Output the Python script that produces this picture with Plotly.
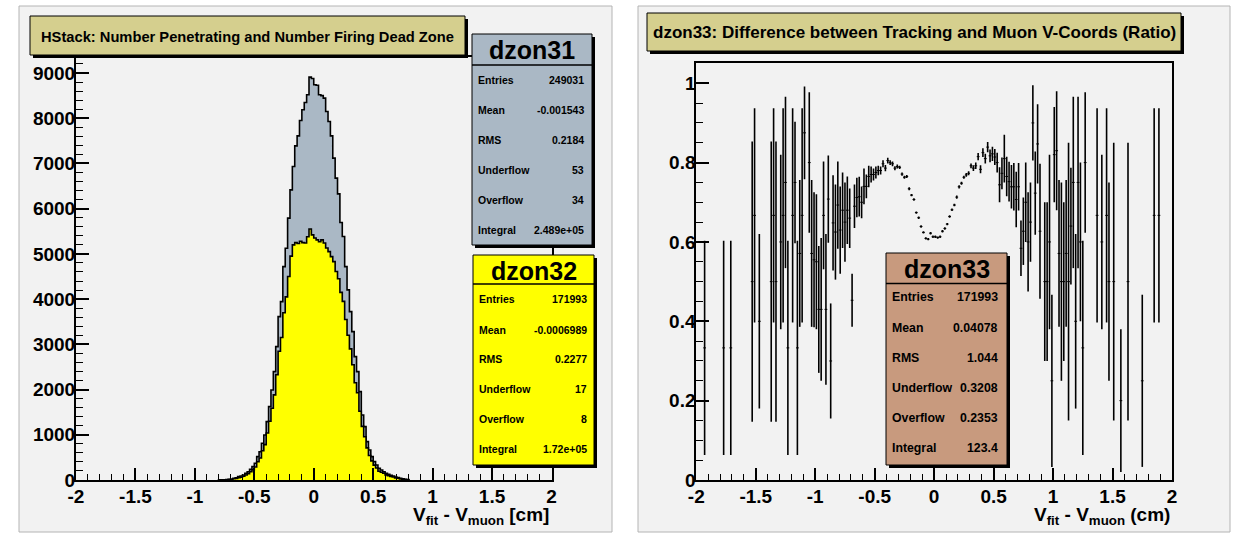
import numpy as np
import plotly.graph_objects as go

W, H = 1240, 537

# ---------------- data ----------------
bin_width = 0.02
hist_lo = -0.80   # left edge of first listed bin

# dzon31 (number penetrating) counts, bins from -0.80 to 0.80
dzon31_counts = [3, 5, 7, 10, 15, 22, 37, 51, 74, 88,
                 111, 148, 184, 236, 295, 369, 516, 626, 812, 996,
                 1290, 1622, 1991, 2396, 2950, 3613, 3945, 4719, 5126, 5790,
                 6416, 6932, 7389, 7610, 7950, 8186, 8348, 8518, 8909, 8880,
                 8740, 8730, 8518, 8500, 8444, 8148, 7927, 7610, 7117, 6675,
                 6327, 5693, 5383, 4719, 4204, 3724, 3281, 2729, 2396, 1954,
                 1438, 1180, 848, 664, 516, 406, 332, 258, 221, 184,
                 148, 125, 103, 88, 66, 52, 37, 29, 15, 10]

# dzon32 (number firing dead zone) counts, same bins
dzon32_counts = [2, 3, 5, 7, 10, 10, 26, 36, 53, 62,
                 82, 110, 141, 182, 227, 286, 402, 488, 647, 783,
                 1038, 1298, 1587, 1883, 2331, 2847, 3150, 3700, 4050, 4500,
                 4950, 5200, 5250, 5230, 5280, 5250, 5240, 5380, 5550, 5420,
                 5350, 5310, 5270, 5310, 5240, 5130, 5050, 4940, 4830, 4610,
                 4450, 4150, 3950, 3550, 3200, 2900, 2550, 2150, 1930, 1520,
                 1186, 956, 711, 542, 424, 330, 266, 192, 171, 149,
                 113, 94, 76, 65, 47, 38, 22, 18, 11, 6]

# dzon33 ratio: bin centres, values, errors
ratio_x = [-1.93, -1.77, -1.71, -1.53, -1.51, -1.47, -1.37, -1.35, -1.33, -1.29,
           -1.27, -1.25, -1.23, -1.19, -1.17, -1.15, -1.13, -1.11, -1.09, -1.05,
           -1.03, -1.01, -0.99, -0.97, -0.95, -0.93, -0.91, -0.89, -0.87, -0.85,
           -0.83, -0.81, -0.79, -0.77, -0.75, -0.73, -0.71, -0.69, -0.67, -0.65,
           -0.63, -0.61, -0.59, -0.57, -0.55, -0.53, -0.51, -0.49, -0.47, -0.45,
           -0.43, -0.41, -0.39, -0.37, -0.35, -0.33, -0.31, -0.29, -0.27, -0.25,
           -0.23, -0.21, -0.19, -0.17, -0.15, -0.13, -0.11, -0.09, -0.07, -0.05,
           -0.03, -0.01, 0.01, 0.03, 0.05, 0.07, 0.09, 0.11, 0.13, 0.15,
           0.17, 0.19, 0.21, 0.23, 0.25, 0.27, 0.29, 0.31, 0.33, 0.35,
           0.37, 0.39, 0.41, 0.43, 0.45, 0.47, 0.49, 0.51, 0.53, 0.55,
           0.57, 0.59, 0.61, 0.63, 0.65, 0.67, 0.69, 0.71, 0.73, 0.75,
           0.77, 0.79, 0.81, 0.83, 0.85, 0.87, 0.89, 0.93, 0.95, 0.97,
           0.99, 1.01, 1.03, 1.05, 1.07, 1.09, 1.11, 1.13, 1.15, 1.17,
           1.19, 1.21, 1.23, 1.25, 1.27, 1.37, 1.41, 1.45, 1.47, 1.51,
           1.57, 1.63, 1.75, 1.85, 1.89]
ratio_y = [0.333, 0.333, 0.333, 0.5, 0.667, 0.4, 0.5, 0.667, 0.5, 0.6,
           0.667, 0.75, 0.333, 0.667, 0.75, 0.333, 0.571, 0.667, 0.875, 0.8,
           0.571, 0.555, 0.55, 0.43, 0.43, 0.667, 0.43, 0.708, 0.30, 0.648,
           0.625, 0.693, 0.63, 0.68, 0.65, 0.68, 0.66, 0.453, 0.69, 0.712,
           0.714, 0.70, 0.74, 0.74, 0.765, 0.77, 0.77, 0.775, 0.78, 0.78,
           0.797, 0.786, 0.805, 0.80, 0.797, 0.786, 0.79, 0.788, 0.771, 0.763,
           0.765, 0.734, 0.718, 0.707, 0.674, 0.661, 0.639, 0.624, 0.609, 0.607,
           0.622, 0.613, 0.613, 0.611, 0.613, 0.627, 0.634, 0.645, 0.664, 0.681,
           0.693, 0.713, 0.739, 0.748, 0.763, 0.769, 0.773, 0.792, 0.786, 0.792,
           0.815, 0.783, 0.825, 0.81, 0.839, 0.817, 0.822, 0.814, 0.80, 0.744,
           0.773, 0.81, 0.765, 0.752, 0.739, 0.739, 0.707, 0.739, 0.584, 0.627,
           0.70, 0.60, 0.65, 0.90, 0.723, 0.847, 0.627, 0.5, 0.5, 0.6,
           0.25, 0.82, 0.83, 0.571, 0.5, 0.5, 0.571, 0.5, 0.64, 0.75,
           0.4, 0.75, 0.6, 0.333, 0.8, 0.667, 0.6, 0.667, 0.5, 0.5,
           0.2, 0.5, 0.25, 0.667, 0.667]
ratio_err = [0.27, 0.27, 0.27, 0.353, 0.27, 0.22, 0.353, 0.27, 0.353, 0.22,
             0.27, 0.216, 0.27, 0.27, 0.153, 0.27, 0.185, 0.27, 0.117, 0.177,
             0.185, 0.17, 0.17, 0.16, 0.18, 0.136, 0.19, 0.11, 0.145, 0.12,
             0.12, 0.11, 0.11, 0.095, 0.10, 0.085, 0.075, 0.067, 0.055, 0.05,
             0.05, 0.04, 0.045, 0.03, 0.027, 0.02, 0.015, 0.015, 0.012, 0.01,
             0.009, 0.008, 0.007, 0.006, 0.006, 0.005, 0.005, 0.004, 0.004, 0.004,
             0.004, 0.004, 0.003, 0.003, 0.003, 0.003, 0.003, 0.003, 0.003, 0.003,
             0.003, 0.003, 0.003, 0.003, 0.003, 0.003, 0.003, 0.003, 0.003, 0.003,
             0.003, 0.004, 0.004, 0.004, 0.004, 0.005, 0.005, 0.006, 0.007, 0.008,
             0.009, 0.01, 0.011, 0.012, 0.013, 0.016, 0.018, 0.02, 0.025, 0.044,
             0.04, 0.06, 0.05, 0.05, 0.055, 0.06, 0.07, 0.06, 0.07, 0.085,
             0.10, 0.125, 0.10, 0.095, 0.105, 0.10, 0.17, 0.2, 0.2, 0.22,
             0.217, 0.12, 0.15, 0.185, 0.25, 0.2, 0.185, 0.35, 0.147, 0.216,
             0.22, 0.216, 0.2, 0.27, 0.177, 0.27, 0.22, 0.27, 0.25, 0.35,
             0.18, 0.35, 0.217, 0.27, 0.27]

x_tick_vals = [-2, -1.5, -1, -0.5, 0, 0.5, 1, 1.5, 2]
x_tick_text = ["-2", "-1.5", "-1", "-0.5", "0", "0.5", "1", "1.5", "2"]
left_y_tick_vals = [0, 1000, 2000, 3000, 4000, 5000, 6000, 7000, 8000, 9000]
left_y_tick_text = ["0", "1000", "2000", "3000", "4000", "5000", "6000", "7000", "8000", "9000"]
right_y_tick_vals = [0, 0.2, 0.4, 0.6, 0.8, 1.0]
right_y_tick_text = ["0", "0.2", "0.4", "0.6", "0.8", "1"]

stat_labels = ["Entries", "Mean", "RMS", "Underflow", "Overflow", "Integral"]
dzon31_stats = ["249031", "-0.001543", "0.2184", "53", "34", "2.489e+05"]
dzon32_stats = ["171993", "-0.0006989", "0.2277", "17", "8", "1.72e+05"]
dzon33_stats = ["171993", "0.04078", "1.044", "0.3208", "0.2353", "123.4"]

left_title = "HStack: Number Penetrating and Number Firing Dead Zone"
right_title = "dzon33: Difference between Tracking and Muon V-Coords (Ratio)"

# ---------------- helpers ----------------
FONT = "Liberation Sans, Arial, Helvetica, sans-serif"


def px(x):
    return x / W


def py(y):
    return 1 - y / H


def step_xy(counts):
    n = len(counts)
    edges = hist_lo + bin_width * np.arange(n + 1)
    xs = [edges[0]] + list(edges[:-1]) + [edges[-1]]
    ys = [0] + list(counts) + [0]
    return xs, ys


fig = go.Figure()

gx, gy = step_xy(dzon31_counts)
fig.add_trace(go.Scatter(x=gx, y=gy, mode="lines", line=dict(shape="hv", color="black", width=1.6),
                         fill="tozeroy", fillcolor="#aab8c5", xaxis="x", yaxis="y",
                         showlegend=False, hoverinfo="skip"))
yx, yy = step_xy(dzon32_counts)
fig.add_trace(go.Scatter(x=yx, y=yy, mode="lines", line=dict(shape="hv", color="black", width=1.6),
                         fill="tozeroy", fillcolor="#ffff00", xaxis="x", yaxis="y",
                         showlegend=False, hoverinfo="skip"))

fig.add_trace(go.Scatter(x=ratio_x, y=ratio_y, mode="markers",
                         marker=dict(symbol="line-ew", size=2, color="black",
                                     line=dict(width=1, color="black")),
                         error_y=dict(type="data", array=ratio_err, visible=True,
                                      color="black", thickness=1.6, width=0),
                         xaxis="x2", yaxis="y2", showlegend=False, hoverinfo="skip"))

tickfont = dict(family=FONT, size=19, color="black", weight="bold")


def xaxis_cfg(x0, x1, anchor):
    return dict(domain=[px(x0), px(x1)], range=[-2, 2], tickmode="array",
                tickvals=x_tick_vals, ticktext=x_tick_text, ticks="inside",
                ticklen=12, tickwidth=1.5, tickcolor="black",
                minor=dict(dtick=0.1, tick0=0, ticks="inside", ticklen=6,
                           tickwidth=1.2, tickcolor="black", showgrid=False),
                showgrid=False, zeroline=False, showline=True, linecolor="black",
                linewidth=2, mirror=True, tickfont=tickfont, fixedrange=True,
                automargin=False, anchor=anchor, ticklabelstandoff=-2)


def yaxis_cfg(anchor, y0, y1, rng, vals, text, minor_dtick):
    return dict(domain=[py(y1), py(y0)], range=rng, tickmode="array",
                tickvals=vals, ticktext=text, ticks="inside", ticklen=13,
                tickwidth=1.5, tickcolor="black",
                minor=dict(dtick=minor_dtick, tick0=0, ticks="inside", ticklen=7,
                           tickwidth=1.2, tickcolor="black", showgrid=False),
                showgrid=False, zeroline=False, showline=True, linecolor="black",
                linewidth=2, mirror=True, tickfont=tickfont, anchor=anchor,
                fixedrange=True, automargin=False, ticklabelstandoff=-5)


shapes = []
annotations = []


def rect(x0, y0, x1, y1, fill, line="black", lw=1, layer="above"):
    shapes.append(dict(type="rect", xref="paper", yref="paper",
                       x0=px(x0), x1=px(x1), y0=py(y1), y1=py(y0),
                       fillcolor=fill, line=dict(color=line, width=lw), layer=layer))


def hline(x0, x1, y, lw=1):
    shapes.append(dict(type="line", xref="paper", yref="paper",
                       x0=px(x0), x1=px(x1), y0=py(y), y1=py(y),
                       line=dict(color="black", width=lw), layer="above"))


def text(x, y, s, size, xanchor="center", yanchor="middle"):
    annotations.append(dict(x=px(x), y=py(y), xref="paper", yref="paper", text=s,
                            showarrow=False, xanchor=xanchor, yanchor=yanchor,
                            font=dict(family=FONT, size=size, color="black", weight="bold")))


# pads
rect(19, 6, 612, 532, "#f2f2f2", line="#b4b4b4", lw=1, layer="below")
rect(638, 6, 1230, 532, "#f2f2f2", line="#b4b4b4", lw=1, layer="below")

# title boxes
rect(33, 19, 468, 58, "black", lw=0)
rect(30, 16, 465, 55, "#d5cf8e")
text(247.5, 36.5, left_title, 14.7)
rect(650, 16, 1184, 54, "black", lw=0)
rect(647, 13, 1181, 51, "#d5cf8e")
text(914, 33, right_title, 17)


def stats_box(x0, y0, x1, y1, ydiv, fill, name, vals, rows, size, lab_x, val_x):
    rect(x0 + 3, y0 + 3, x1 + 3, y1 + 3, "black", lw=0)
    rect(x0, y0, x1, y1, fill)
    hline(x0, x1, ydiv, lw=1.5)
    text((x0 + x1) / 2, (y0 + ydiv) / 2 + 1, name, 25)
    for lab, v, ry in zip(stat_labels, vals, rows):
        text(lab_x, ry, lab, size, xanchor="left")
        text(val_x, ry, v, size, xanchor="right")


stats_box(472, 34, 592, 245, 65, "#aab8c5", "dzon31", dzon31_stats,
          [80, 110, 140, 170, 200, 230], 10.5, 476, 586)
stats_box(473, 255, 594, 465, 284, "#ffff00", "dzon32", dzon32_stats,
          [299, 330, 359, 389, 419, 449], 10.5, 477, 589)
stats_box(886, 253, 1007, 465, 283.5, "#c89a7e", "dzon33", dzon33_stats,
          [297, 328, 358, 388, 418, 448], 12.3, 890, 1000)

# axis titles
text(551, 502, "V<sub>fit</sub> - V<sub>muon</sub> [cm]", 19, xanchor="right", yanchor="top")
text(1172, 502, "V<sub>fit</sub> - V<sub>muon</sub> (cm)", 19, xanchor="right", yanchor="top")

fig.update_layout(
    width=W, height=H, margin=dict(l=0, r=0, t=0, b=0, autoexpand=False),
    paper_bgcolor="white", plot_bgcolor="rgba(0,0,0,0)",
    xaxis=xaxis_cfg(76, 551.5, "y"),
    yaxis=yaxis_cfg("x", 57, 480, [0, 9354], left_y_tick_vals, left_y_tick_text, 200),
    xaxis2=xaxis_cfg(696.3, 1172, "y2"),
    yaxis2=yaxis_cfg("x2", 63, 480, [0, 1.051], right_y_tick_vals, right_y_tick_text, 0.05),
    shapes=shapes, annotations=annotations, showlegend=False,
)

fig.write_html("out.html", config=dict(displayModeBar=False))
